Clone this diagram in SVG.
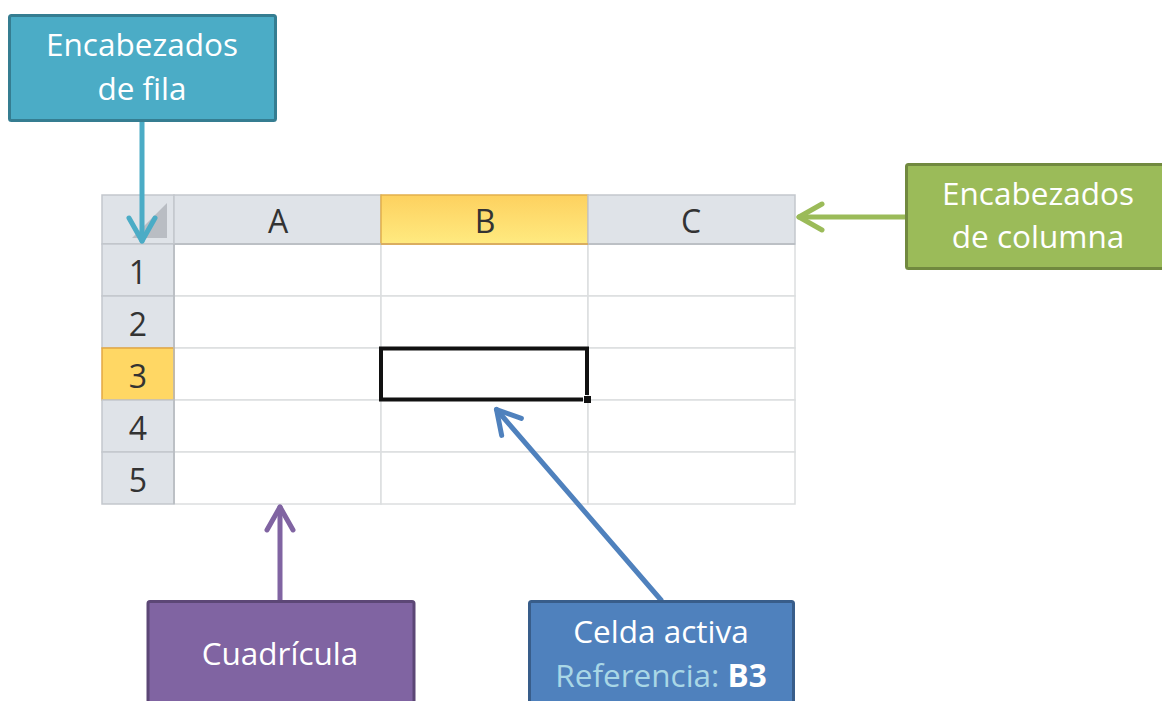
<svg xmlns="http://www.w3.org/2000/svg" width="1162" height="701" viewBox="0 0 1162 701">
<style>
  .hdr { fill: #dfe3e8; stroke: #c3c7cd; stroke-width: 1.5; }
  .cell { fill: #ffffff; stroke: #dcdedf; stroke-width: 1.5; }
  .hl { font-family: "Open Sans", "Noto Sans", sans-serif; font-size: 32px; fill: #333333; text-anchor: middle; }
  .lbl { font-family: "Open Sans", "Noto Sans", sans-serif; font-size: 31.5px; fill: #ffffff; text-anchor: middle; }
  .conn { fill: none; stroke-width: 5; stroke-linecap: round; }
</style>
<defs>
  <linearGradient id="selCol" x1="0" y1="0" x2="0" y2="1">
    <stop offset="0" stop-color="#fdd15f"/>
    <stop offset="1" stop-color="#ffea80"/>
  </linearGradient>
  <marker id="mTeal" markerUnits="userSpaceOnUse" viewBox="-30 -18 34 36" markerWidth="34" markerHeight="36" refX="0" refY="0" orient="auto">
    <path d="M-23,-13 L0,0 L-23,13" fill="none" stroke="#4bacc6" stroke-width="5" stroke-linecap="round" stroke-linejoin="round"/>
  </marker>
  <marker id="mGreen" markerUnits="userSpaceOnUse" viewBox="-30 -18 34 36" markerWidth="34" markerHeight="36" refX="0" refY="0" orient="auto">
    <path d="M-23,-13 L0,0 L-23,13" fill="none" stroke="#9bbb59" stroke-width="5" stroke-linecap="round" stroke-linejoin="round"/>
  </marker>
  <marker id="mPurple" markerUnits="userSpaceOnUse" viewBox="-30 -18 34 36" markerWidth="34" markerHeight="36" refX="0" refY="0" orient="auto">
    <path d="M-23,-13 L0,0 L-23,13" fill="none" stroke="#8064a2" stroke-width="5" stroke-linecap="round" stroke-linejoin="round"/>
  </marker>
  <marker id="mBlue" markerUnits="userSpaceOnUse" viewBox="-30 -18 34 36" markerWidth="34" markerHeight="36" refX="0" refY="0" orient="auto">
    <path d="M-23,-13 L0,0 L-23,13" fill="none" stroke="#4f81bd" stroke-width="5" stroke-linecap="round" stroke-linejoin="round"/>
  </marker>
</defs>
<rect width="1162" height="701" fill="#ffffff"/>

<g id="spreadsheet">
  <g id="cells">
    <rect class="cell" x="174" y="244" width="207" height="52"/>
    <rect class="cell" x="381" y="244" width="207" height="52"/>
    <rect class="cell" x="588" y="244" width="207" height="52"/>
    <rect class="cell" x="174" y="296" width="207" height="52"/>
    <rect class="cell" x="381" y="296" width="207" height="52"/>
    <rect class="cell" x="588" y="296" width="207" height="52"/>
    <rect class="cell" x="174" y="348" width="207" height="52"/>
    <rect class="cell" x="381" y="348" width="207" height="52"/>
    <rect class="cell" x="588" y="348" width="207" height="52"/>
    <rect class="cell" x="174" y="400" width="207" height="52"/>
    <rect class="cell" x="381" y="400" width="207" height="52"/>
    <rect class="cell" x="588" y="400" width="207" height="52"/>
    <rect class="cell" x="174" y="452" width="207" height="52"/>
    <rect class="cell" x="381" y="452" width="207" height="52"/>
    <rect class="cell" x="588" y="452" width="207" height="52"/>
  </g>
  <g id="colHeaders">
    <rect class="hdr" x="102" y="195" width="72" height="49"/>
    <path d="M132,238 L167,203 L167,238 Z" fill="#b9bdc3"/>
    <rect class="hdr" x="174" y="195" width="207" height="49"/>
    <rect x="381" y="195" width="207" height="49" fill="url(#selCol)" stroke="#e2b04c" stroke-width="1.5"/>
    <rect class="hdr" x="588" y="195" width="207" height="49"/>
    <line x1="102" y1="244" x2="795" y2="244" stroke="#b7bbc1" stroke-width="1.5"/>
    <line x1="381" y1="244" x2="588" y2="244" stroke="#e2a847" stroke-width="1.5"/>
    <text class="hl" x="278" y="233">A</text>
    <text class="hl" x="485" y="233">B</text>
    <text class="hl" x="691" y="233">C</text>
  </g>
  <g id="rowHeaders">
    <rect class="hdr" x="102" y="244" width="72" height="52"/>
    <rect class="hdr" x="102" y="296" width="72" height="52"/>
    <rect x="102" y="348" width="72" height="52" fill="#ffd764" stroke="#e3a843" stroke-width="1.5"/>
    <rect class="hdr" x="102" y="400" width="72" height="52"/>
    <rect class="hdr" x="102" y="452" width="72" height="52"/>
    <line x1="174" y1="244" x2="174" y2="504" stroke="#b7bbc1" stroke-width="1.5"/>
    <text class="hl" x="138" y="284">1</text>
    <text class="hl" x="138" y="336">2</text>
    <text class="hl" x="138" y="388">3</text>
    <text class="hl" x="138" y="440">4</text>
    <text class="hl" x="138" y="492">5</text>
  </g>
  <g id="activeCell">
    <path d="M583,399.5 L381,399.5 L381,348.5 L587,348.5 L587,395" fill="none" stroke="#111111" stroke-width="4"/>
    <rect x="584" y="396" width="7" height="7" fill="#111111"/>
  </g>
</g>

<g id="connectors">
  <line class="conn" x1="142" y1="122" x2="142" y2="241" stroke="#4bacc6" marker-end="url(#mTeal)"/>
  <line class="conn" x1="905" y1="217" x2="799" y2="217" stroke="#9bbb59" marker-end="url(#mGreen)"/>
  <line class="conn" x1="280" y1="600" x2="280" y2="507" stroke="#8064a2" marker-end="url(#mPurple)"/>
  <line class="conn" x1="661" y1="600" x2="496.5" y2="409.5" stroke="#4f81bd" marker-end="url(#mBlue)"/>
</g>

<g id="nodeRowHeaders">
  <rect x="9.5" y="15.5" width="266" height="105" rx="2" fill="#4bacc6" stroke="#357d91" stroke-width="3"/>
  <text class="lbl" x="142" y="56">Encabezados</text>
  <text class="lbl" x="142" y="100">de fila</text>
</g>

<g id="nodeColHeaders">
  <rect x="906.5" y="164.5" width="262" height="104" rx="2" fill="#9bbb59" stroke="#71893f" stroke-width="3"/>
  <text class="lbl" x="1038" y="205">Encabezados</text>
  <text class="lbl" x="1038" y="248">de columna</text>
</g>

<g id="nodeGrid">
  <rect x="148" y="601.5" width="266" height="110" rx="2" fill="#8064a2" stroke="#5c4776" stroke-width="3"/>
  <text class="lbl" x="280" y="665">Cuadrícula</text>
</g>

<g id="nodeActiveCell">
  <rect x="529.5" y="601.5" width="264" height="110" rx="2" fill="#4f81bd" stroke="#385d8a" stroke-width="3"/>
  <text class="lbl" x="661" y="643">Celda activa</text>
  <text class="lbl" x="661" y="687"><tspan fill="#a9d7e6">Referencia: </tspan><tspan font-weight="bold">B3</tspan></text>
</g>
</svg>
